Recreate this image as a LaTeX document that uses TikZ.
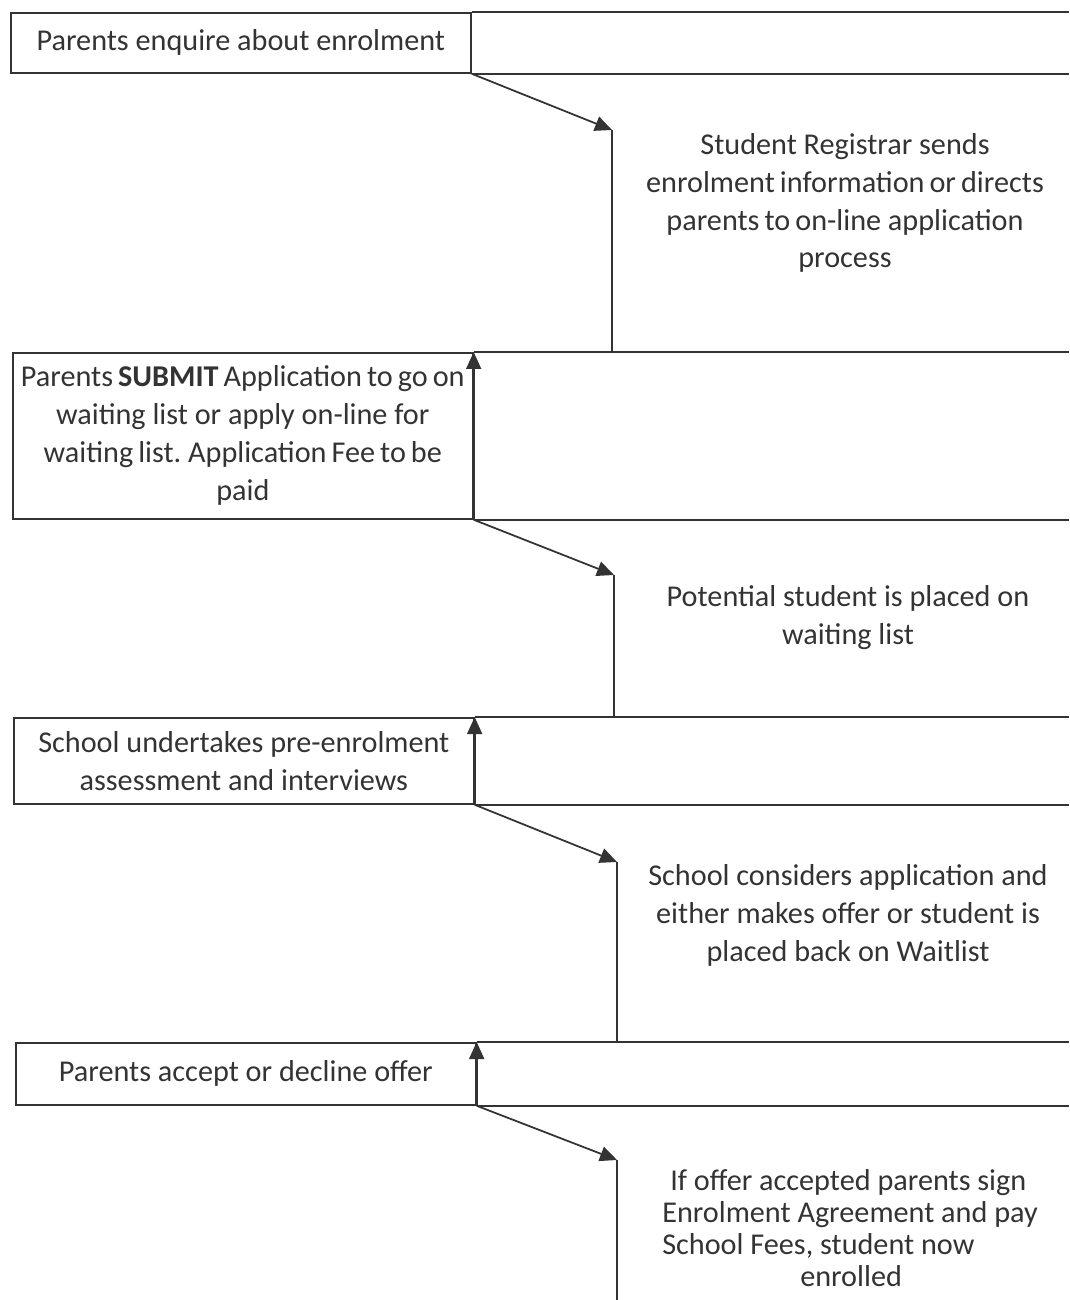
\documentclass[tikz,border=0pt]{standalone}
\usepackage{fontspec}
\setmainfont{Carlito}
\usetikzlibrary{arrows.meta,positioning,calc}
\frenchspacing

\begin{document}
\begin{tikzpicture}[x=0.02cm,y=-0.02cm,
		stage/.style={draw=black!80, line width=1pt, anchor=north west, minimum width=9.2cm, align=center, inner sep=0pt, text=black!80, font=\fontsize{17.2}{21.6}\selectfont},
		note/.style={align=center, text=black!80, font=\fontsize{17.2}{21.6}\selectfont},
		rule/.style={draw=black!80, line width=1pt},
		flow/.style={draw=black!80, line width=1pt, -{Triangle[length=0.34cm,width=0.3cm]}}]
		\useasboundingbox (0,0) rectangle (1069,1300);
	
		\node[stage, minimum height=1.2cm] at (10,12) (enq) {Parents enquire about enrolment};
		\node[stage, minimum height=3.32cm] at (12,352) (sub) {Parents\,\textbf{SUBMIT}\,Application\,to\,go\,on\\ waiting list or apply on-line for\\ waiting\,list. Application\,Fee\,to\,be\\ paid};
		\node[stage, minimum height=1.72cm] at (13,717) (ass) {School undertakes pre-enrolment\\ assessment and interviews};
		\node[stage, minimum height=1.24cm] at (15,1042) (acc) {Parents accept or decline offer};
	
		\foreach \b in {enq,sub,ass,acc}{
			\draw[rule] (\b.north east) -- (\b.north east -| 1069,0);
			\draw[rule] (\b.south east) -- (\b.south east -| 1069,0);
		}
	
		\coordinate (t1) at (612,130);
		\coordinate (t2) at (614,575);
		\coordinate (t3) at (617,862);
		\coordinate (t4) at (617,1160);
		\coordinate (end) at (617,1300);
	
		\draw[flow] (enq.south east) -- (t1);
		\draw[flow] (sub.south east) -- (t2);
		\draw[flow] (ass.south east) -- (t3);
		\draw[flow] (acc.south east) -- (t4);
	
		\draw[rule] (t1) -- (t1 |- sub.north);
		\draw[rule] (t2) -- (t2 |- ass.north);
		\draw[rule] (t3) -- (t3 |- acc.north);
		\draw[rule] (t4) -- (end);
	
		\draw[flow] (sub.south east) -- (sub.north east);
		\draw[flow] (ass.south east) -- (ass.north east);
		\draw[flow] (acc.south east) -- (acc.north east);
	
		\node[note] at (845,203) (n1) {Student Registrar sends\\ enrolment\,information\,or\,directs\\ parents\,to\,on-line application\\ process};
		\node[note] at (848,618) (n2) {Potential student is placed on\\ waiting list};
		\node[note] at (848,915) (n3) {School considers application and\\ either makes offer or student is\\ placed back on Waitlist};
		\node[note, align=left, font=\fontsize{17.2}{18.2}\selectfont] at (850,1228) (n4) {\hspace*{0.16cm}If offer accepted parents sign\\ Enrolment Agreement and pay\\ School Fees, student now\\ \hspace*{2.76cm}enrolled};
	
	\end{tikzpicture}
\end{document}
